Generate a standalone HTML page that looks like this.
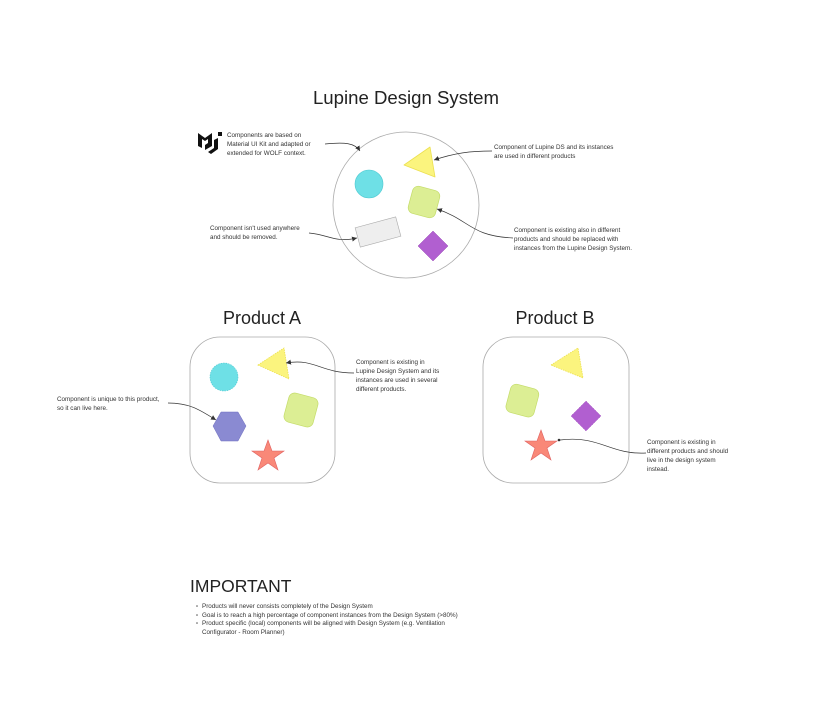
<!DOCTYPE html>
<html><head><meta charset="utf-8"><style>
html,body{margin:0;padding:0;background:#fff;}
svg{display:block;font-family:"Liberation Sans",sans-serif;}
.s{font-size:6.3px;fill:#333;}
.t{fill:#222;}
</style></head><body>
<svg width="828" height="720" viewBox="0 0 828 720" xmlns="http://www.w3.org/2000/svg">
<defs>
<marker id="a" markerWidth="6" markerHeight="6" refX="5" refY="3" orient="auto" markerUnits="userSpaceOnUse"><path d="M0,0.5 L5,3 L0,5.5 Z" fill="#333"/></marker>
</defs>
<text class="t" x="406" y="104" text-anchor="middle" font-size="18.6">Lupine Design System</text>
<circle cx="406" cy="205" r="73" fill="none" stroke="#aaa" stroke-width="0.8"/>
<circle cx="369" cy="184" r="14" fill="#6ee0e6" stroke="#4cc8d0" stroke-width="0.6"/>
<polygon points="404,165 430,147 435,177" fill="#fbf47e" stroke="#ece050" stroke-width="0.8" stroke-linejoin="round"/>
<rect x="410" y="188" width="28" height="28" rx="6" fill="#dcee94" stroke="#c4dc6a" stroke-width="0.7" transform="rotate(15 424 202)"/>
<rect x="357" y="222" width="42" height="20" fill="#eee" stroke="#aaa" stroke-width="0.6" transform="rotate(-15 378 232)"/>
<polygon points="433,231 448,246 433,261 418,246" fill="#b15fd0" stroke="#9a4ab8" stroke-width="0.5"/>
<path d="M198,133 L205,138 L212,133 L212,146 L205,150 L205,145 L208,143 L208,139 L205,141 L202,139 L202,148 L198,146 Z" fill="#111"/>
<path d="M214,140 L218,138 L218,149 L211,154 L208,152 L214,148 Z" fill="#111"/>
<rect x="218" y="132" width="4" height="4" fill="#111"/>
<text class="s" x="227" y="137">Components are based on</text>
<text class="s" x="227" y="146">Material UI Kit and adapted or</text>
<text class="s" x="227" y="155">extended for WOLF context.</text>
<path d="M325,144 C345,142 355,143 360,151" fill="none" stroke="#333" stroke-width="0.7" marker-end="url(#a)"/>
<text class="s" x="494" y="149">Component of Lupine DS and its instances</text>
<text class="s" x="494" y="158">are used in different products</text>
<path d="M492,151 C470,151 455,153 434,160" fill="none" stroke="#333" stroke-width="0.7" marker-end="url(#a)"/>
<text class="s" x="210" y="230">Component isn't used anywhere</text>
<text class="s" x="210" y="239">and should be removed.</text>
<path d="M309,233 C330,235 335,243 357,238" fill="none" stroke="#333" stroke-width="0.7" marker-end="url(#a)"/>
<text class="s" x="514" y="232">Component is existing also in different</text>
<text class="s" x="514" y="241">products and should be replaced with</text>
<text class="s" x="514" y="250">instances from the Lupine Design System.</text>
<path d="M513,238 C470,236 470,220 437,209" fill="none" stroke="#333" stroke-width="0.7" marker-end="url(#a)"/>

<text class="t" x="262" y="324" text-anchor="middle" font-size="18">Product A</text>
<rect x="190" y="337" width="145" height="146" rx="30" fill="none" stroke="#aaa" stroke-width="0.8"/>
<circle cx="224" cy="377" r="14" fill="#6ee0e6" stroke="#4cc8d0" stroke-width="0.6" stroke-dasharray="1.5,1"/>
<polygon points="258,365 284,348 289,379" fill="#fbf47e" stroke="#ece050" stroke-width="0.8" stroke-dasharray="1.5,1"/>
<rect x="286" y="395" width="30" height="30" rx="6" fill="#dcee94" stroke="#c4dc6a" stroke-width="0.7" transform="rotate(15 301 410)"/>
<polygon points="213,426 221,412 238,412 246,426 238,441 221,441" fill="#8a8ad2" stroke="#6f6fc0" stroke-width="0.5"/>
<polygon points="268,440 272,451 284,451 274,458 278,470 268,463 258,470 262,458 252,451 264,451" fill="#f98878" stroke="#e06060" stroke-width="0.6"/>
<text class="s" x="356" y="364">Component is existing in</text>
<text class="s" x="356" y="373">Lupine Design System and its</text>
<text class="s" x="356" y="382">instances are used in several</text>
<text class="s" x="356" y="391">different products.</text>
<path d="M354,373 C320,373 315,358 286,363" fill="none" stroke="#333" stroke-width="0.7" marker-end="url(#a)"/>
<text class="s" x="57" y="401">Component is unique to this product,</text>
<text class="s" x="57" y="410">so it can live here.</text>
<path d="M168,403 C190,403 200,410 216,420" fill="none" stroke="#333" stroke-width="0.7" marker-end="url(#a)"/>

<text class="t" x="555" y="324" text-anchor="middle" font-size="18">Product B</text>
<rect x="483" y="337" width="146" height="146" rx="30" fill="none" stroke="#aaa" stroke-width="0.8"/>
<polygon points="551,365 578,348 583,378" fill="#fbf47e" stroke="#ece050" stroke-width="0.8" stroke-dasharray="1.5,1"/>
<rect x="508" y="386" width="29" height="29" rx="6" fill="#dcee94" stroke="#c4dc6a" stroke-width="0.7" transform="rotate(15 522 400)"/>
<polygon points="586,401 601,416 586,431 571,416" fill="#b15fd0" stroke="#9a4ab8" stroke-width="0.5" stroke-dasharray="1.5,1"/>
<polygon points="541,430 545,441 557,441 547,448 551,460 541,453 531,460 535,448 525,441 537,441" fill="#f98878" stroke="#e06060" stroke-width="0.6"/>
<text class="s" x="647" y="444">Component is existing in</text>
<text class="s" x="647" y="453">different products and should</text>
<text class="s" x="647" y="462">live in the design system</text>
<text class="s" x="647" y="471">instead.</text>
<path d="M646,453 C610,455 600,435 560,440" fill="none" stroke="#333" stroke-width="0.7"/>
<circle cx="559" cy="440" r="1.3" fill="#333"/>

<text class="t" x="190" y="592" font-size="17.5">IMPORTANT</text>
<circle cx="197" cy="606" r="0.8" fill="#555"/><text class="s" x="202" y="608">Products will never consists completely of the Design System</text>
<circle cx="197" cy="615" r="0.8" fill="#555"/><text class="s" x="202" y="617">Goal is to reach a high percentage of component instances from the Design System (&gt;80%)</text>
<circle cx="197" cy="623" r="0.8" fill="#555"/><text class="s" x="202" y="625">Product specific (local) components will be aligned with Design System (e.g. Ventilation</text>
<text class="s" x="202" y="634">Configurator - Room Planner)</text>
</svg>
</body></html>
